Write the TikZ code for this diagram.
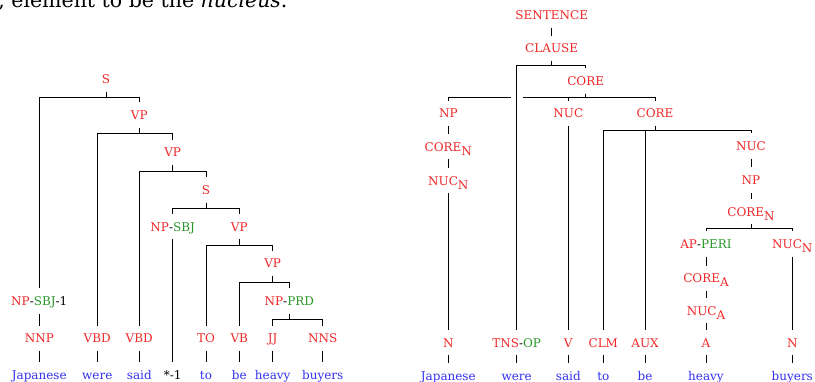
\documentclass[tikz,border=0pt]{standalone}
\usepackage{fontspec}
\setmainfont{DejaVu Serif}
\usetikzlibrary{calc}
\definecolor{lred}{RGB}{240,40,40}
\definecolor{lgreen}{RGB}{40,150,40}
\definecolor{lblue}{RGB}{50,50,240}
\newcommand{\clr}[1]{\textcolor{lred}{#1}}
\newcommand{\clg}[1]{\textcolor{lgreen}{#1}}
\newcommand{\sbs}[1]{\raisebox{-4pt}{#1}}
\tikzset{
  lab/.style={inner sep=0pt, text height=9pt, text depth=0pt, minimum height=24.6pt, font=\fontsize{12}{14}\selectfont},
  cat/.style={lab, text=lred},
  wrd/.style={lab, text=lblue},
}
\begin{document}
\begin{tikzpicture}[x=1pt, y=-1pt, line width=0.7pt]
\useasboundingbox (0,0) rectangle (815,382);
\clip (0,0) rectangle (815,382);
\node[anchor=base west, inner sep=0pt, font=\fontsize{20.5}{24}\selectfont] (toptext) at (-2,7.5) {, element to be the \textit{nucleus}.};
% ---------------- left tree ----------------
\node[cat] (S) at (106,79) {S};
\node[cat] (VPa) at (139.3,115) {VP};
\node[cat] (VPb) at (172.7,152.3) {VP};
\node[cat] (Sb) at (206,190) {S};
\node[lab] (NPsbj) at (172.7,226.7) {\clr{NP}-\clg{SBJ}};
\node[cat] (VPc) at (239.3,226.7) {VP};
\node[cat] (VPd) at (272.7,263.3) {VP};
\node[lab] (NPsbja) at (39.3,301) {\clr{NP}-\clg{SBJ}-1};
\node[lab] (NPprd) at (289.3,301) {\clr{NP}-\clg{PRD}};
\node[cat] (NNP) at (39.3,338.3) {NNP};
\node[cat] (VBDa) at (97.3,338.3) {VBD};
\node[cat] (VBDb) at (139.3,338.3) {VBD};
\node[cat] (TO) at (206,338.3) {TO};
\node[cat] (VB) at (239.3,338.3) {VB};
\node[cat] (JJ) at (272.7,338.3) {JJ};
\node[cat] (NNS) at (322.7,338.3) {NNS};
\node[wrd] (wJap) at (39.3,375) {Japanese};
\node[wrd] (wWere) at (97.3,375) {were};
\node[wrd] (wSaid) at (139.3,375) {said};
\node[lab] (wStar) at (172.7,375) {*-1};
\node[wrd] (wTo) at (206,375) {to};
\node[wrd] (wBe) at (239.3,375) {be};
\node[wrd] (wHeavy) at (272.7,375) {heavy};
\node[wrd] (wBuyers) at (322.7,375) {buyers};
\foreach \p/\c in {S/NPsbja, S/VPa, VPa/VBDa, VPa/VPb, VPb/VBDb, VPb/Sb, Sb/NPsbj, Sb/VPc, VPc/TO, VPc/VPd, VPd/VB, VPd/NPprd, NPprd/JJ, NPprd/NNS}
  \draw (\p.south) -- ++(0,6) -| (\c.north);
\foreach \p/\c in {NPsbja/NNP, NPsbj/wStar, NNP/wJap, VBDa/wWere, VBDb/wSaid, TO/wTo, VB/wBe, JJ/wHeavy, NNS/wBuyers}
  \draw (\p.south) -- (\c.north);
% ---------------- right tree ----------------
\node[cat] (SEN) at (551.7,15) {SENTENCE};
\node[cat] (CLA) at (551.7,48.3) {CLAUSE};
\node[cat] (CORa) at (585.7,81) {CORE};
\node[cat] (NPr) at (448.3,113.3) {NP};
\node[cat] (NUCa) at (568.3,113.3) {NUC};
\node[cat] (CORb) at (655,113.3) {CORE};
\node[cat] (CORNa) at (448.3,146.7) {CORE\sbs{N}};
\node[cat] (NUCNa) at (448.3,180.7) {NUC\sbs{N}};
\node[cat] (NUCb) at (751,146) {NUC};
\node[cat] (NPrb) at (751,180) {NP};
\node[cat] (CORNb) at (751,211.7) {CORE\sbs{N}};
\node[lab] (AP) at (706,244) {\clr{AP}-\clg{PERI}};
\node[cat] (NUCNb) at (792.3,244) {NUC\sbs{N}};
\node[cat] (CORA) at (706,278.3) {CORE\sbs{A}};
\node[cat] (NUCA) at (706,310.7) {NUC\sbs{A}};
\node[cat] (Na) at (448.3,342.7) {N};
\node[lab] (TNS) at (516.7,342.7) {\clr{TNS}-\clg{OP}};
\node[cat] (V) at (568.3,342.7) {V};
\node[cat] (CLM) at (603.3,342.7) {CLM};
\node[cat] (AUX) at (645,342.7) {AUX};
\node[cat] (A) at (706,342.7) {A};
\node[cat] (Nb) at (792.3,342.7) {N};
\node[wrd] (rJap) at (448.3,375.7) {Japanese};
\node[wrd] (rWere) at (516.7,375.7) {were};
\node[wrd] (rSaid) at (568.3,375.7) {said};
\node[wrd] (rTo) at (603.3,375.7) {to};
\node[wrd] (rBe) at (645,375.7) {be};
\node[wrd] (rHeavy) at (706,375.7) {heavy};
\node[wrd] (rBuyers) at (792.3,375.7) {buyers};
\foreach \p/\c in {CLA/TNS, CLA/CORa, CORa/NUCa, CORa/CORb, CORb/CLM, CORb/AUX, CORb/NUCb, CORNb/AP, CORNb/NUCNb}
  \draw (\p.south) -- ++(0,4) -| (\c.north);
% bar to NP with a gap where it crosses the CLAUSE--TNS-OP line
\coordinate (gR) at ($(TNS.north)+(6,0)$);
\coordinate (gL) at ($(TNS.north)+(-6,0)$);
\draw (CORa.south) -- ++(0,4) coordinate (cb) -- (cb -| gR);
\draw (cb -| gL) -| (NPr.north);
\foreach \p/\c in {SEN/CLA, NPr/CORNa, CORNa/NUCNa, NUCNa/Na, NUCa/V, NUCb/NPrb, NPrb/CORNb, AP/CORA, CORA/NUCA, NUCA/A, NUCNb/Nb, Na/rJap, TNS/rWere, V/rSaid, CLM/rTo, AUX/rBe, A/rHeavy, Nb/rBuyers}
  \draw (\p.south) -- (\c.north);
\end{tikzpicture}
\end{document}
